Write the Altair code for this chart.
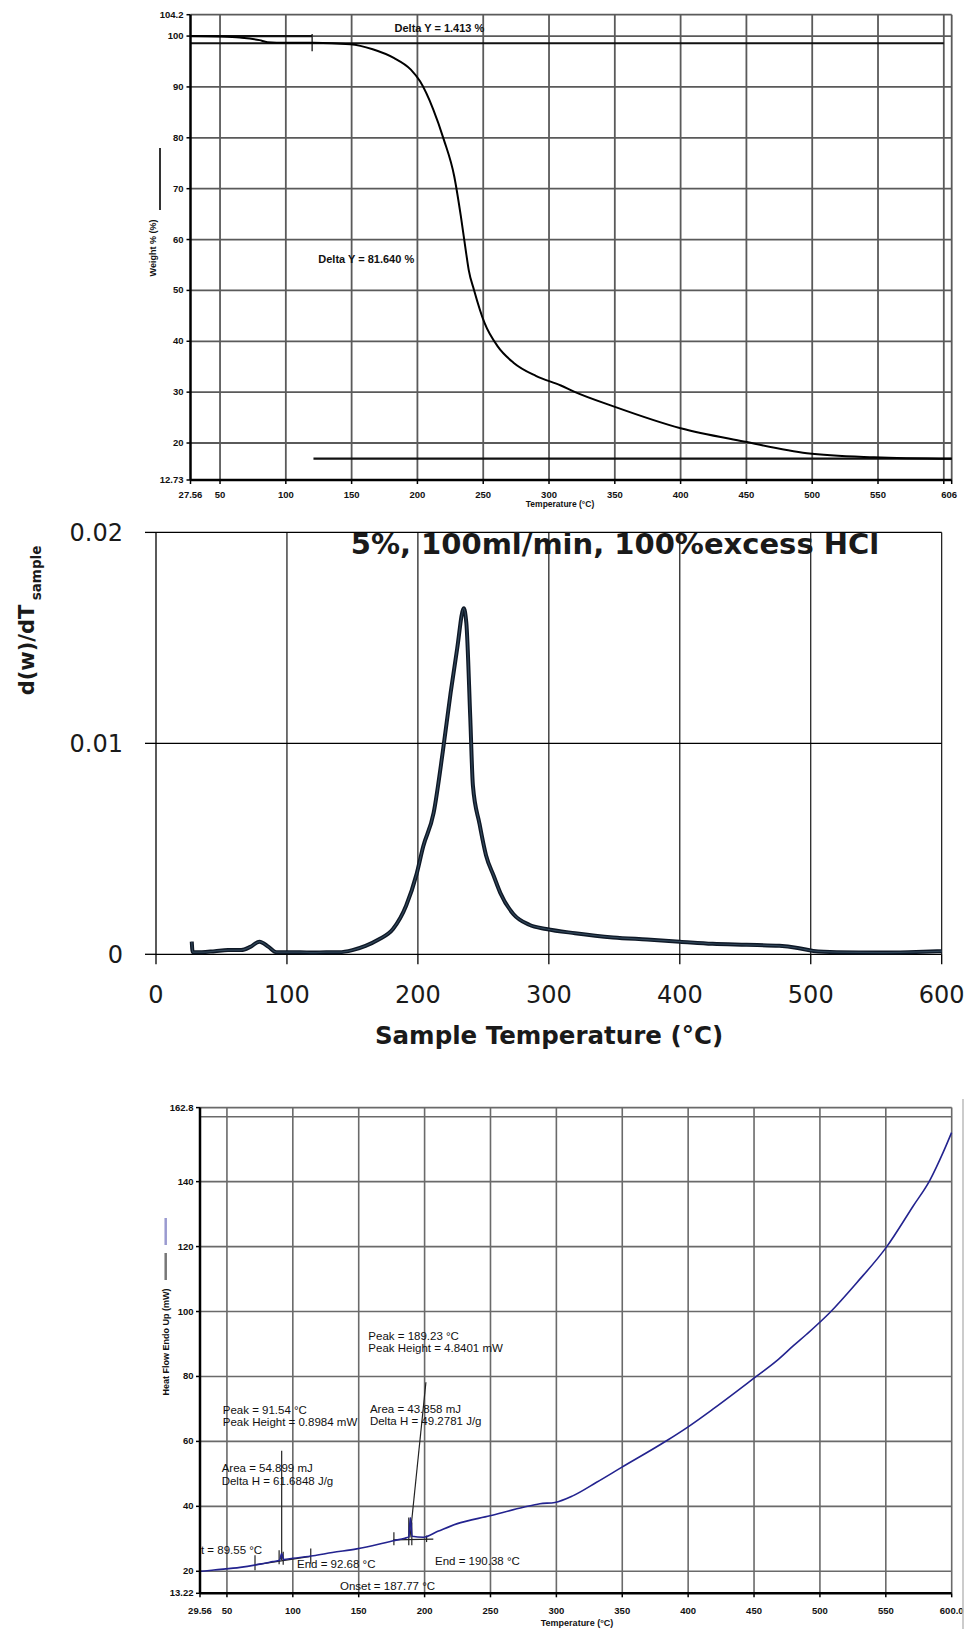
import altair as alt
import pandas as pd

CW, CH = 971, 1629

# ---------------- Panel 1: TGA weight curve ----------------
tga_temp = [27.56, 50, 65, 80, 86, 100, 121, 149, 166, 182, 195, 202, 212, 220, 228, 233,
            237, 239, 243, 251, 261, 273, 290, 309, 319, 349, 400, 448, 496, 547, 606]
tga_weight = [100.0, 99.9, 99.7, 99.2, 98.8, 98.7, 98.7, 98.4, 97.4, 95.7, 93.4, 91.1, 85.6,
              79.7, 72.4, 64.6, 57.4, 54.0, 50.1, 43.6, 39.0, 35.8, 33.2, 31.3, 30.1, 27.2,
              22.9, 20.3, 18.0, 17.2, 16.9]
tga_ticks_x = [27.56, 50, 100, 150, 200, 250, 300, 350, 400, 450, 500, 550, 600, 606]
tga_label_pos = [27.56, 50, 100, 150, 200, 250, 300, 350, 400, 450, 500, 550, 604]
tga_labels_x = ["27.56", "50", "100", "150", "200", "250", "300", "350", "400", "450",
                "500", "550", "606"]
tga_ticks_y = [12.73, 20, 30, 40, 50, 60, 70, 80, 90, 100, 104.2]
tga_labels_y = ["12.73", "20", "30", "40", "50", "60", "70", "80", "90", "100", "104.2"]
tga_grid_x = [50, 100, 150, 200, 250, 300, 350, 400, 450, 500, 550, 600, 606]
tga_grid_y = [20, 30, 40, 50, 60, 70, 80, 90, 100, 104.2]
tga_base_from = [27.56, 27.56, 121]
tga_base_to = [120, 600, 606]
tga_base_level = [100.0, 98.59, 16.95]
tga_notes = ["Delta Y = 1.413 %", "Delta Y = 81.640 %"]
tga_note_T = [216.7, 161.1]
tga_note_W = [101.3, 56.0]

# ---------------- Panel 2: DTG curve ----------------
dtg_temp = [27.3, 28, 35, 45, 55, 65, 72, 79, 86, 92, 100, 110, 120, 130, 140, 150, 160, 170,
            181, 191, 199, 204, 212, 219, 225, 230, 235, 237, 240, 242, 247, 252, 258, 263,
            273, 285, 298, 320, 349, 375, 400, 425, 451, 476, 490, 502, 520, 553, 575, 600]
dtg_rate = [0.0006, 0.0001, 0.0001, 0.00015, 0.0002, 0.0002, 0.00035, 0.0006, 0.00035, 0.0001,
            0.0001, 0.0001, 0.00008, 0.0001, 0.0001, 0.0002, 0.0004, 0.0007, 0.0012, 0.0023,
            0.0038, 0.0051, 0.0067, 0.0096, 0.0124, 0.0145, 0.0164, 0.0157, 0.0112, 0.0080,
            0.0062, 0.0047, 0.0037, 0.0029, 0.0019, 0.0014, 0.0012, 0.0010, 0.0008, 0.0007,
            0.0006, 0.0005, 0.00045, 0.0004, 0.0003, 0.00016, 0.0001, 0.00008, 0.0001, 0.00015]
dtg_ticks_x = [0, 100, 200, 300, 400, 500, 600]
dtg_labels_x = ["0", "100", "200", "300", "400", "500", "600"]
dtg_ticks_y = [0, 0.01, 0.02]
dtg_labels_y = ["0", "0.01", "0.02"]
dtg_grid_x = [100, 200, 300, 400, 500, 600]
dtg_grid_y = [0.01, 0.02]

# ---------------- Panel 3: DSC heat flow ----------------
dsc_temp = [29.56, 29.8, 30.5, 40, 60, 75, 85, 90, 91.5, 93, 100, 115.5, 130, 148.5, 165,
            176.2, 185, 188, 189.2, 190.5, 199, 210, 224.3, 249.6, 275, 287.5, 298.9, 312.8,
            330.5, 349.5, 383.6, 400, 419, 450.7, 467.1, 479.7, 489.9, 507.6, 527.8, 550.6,
            570.8, 583.4, 593.5, 599.9]
dsc_flow = [22.6, 20.3, 20.0, 20.4, 21.2, 22.2, 23.0, 23.4, 25.5, 23.6, 24.0, 24.8, 25.8, 26.9,
            28.3, 29.4, 30.2, 30.6, 36.5, 30.8, 30.5, 32.3, 34.6, 37.1, 39.7, 40.8, 41.2, 43.3,
            47.4, 52.0, 60.2, 64.5, 70.0, 79.7, 84.8, 89.4, 93.0, 99.7, 108.8, 119.9, 132.5,
            140.4, 149.0, 155.1]
dsc_ticks_x = [29.56, 50, 100, 150, 200, 250, 300, 350, 400, 450, 500, 550, 600]
dsc_labels_x = ["29.56", "50", "100", "150", "200", "250", "300", "350", "400", "450",
                "500", "550", "600.0"]
dsc_ticks_y = [13.22, 20, 40, 60, 80, 100, 120, 140, 162.8]
dsc_labels_y = ["13.22", "20", "40", "60", "80", "100", "120", "140", "162.8"]
dsc_grid_x = [50, 100, 150, 200, 250, 300, 350, 400, 450, 500, 550, 600]
dsc_grid_y = [20, 40, 60, 80, 100, 120, 140, 160, 162.8]
dsc_seg_x1 = [91.54, 188.9, 71.3, 176.2, 71.3, 113.6, 89.6, 92.7, 176.7, 188.0, 190.3, 201.5]
dsc_seg_y1 = [23.5, 30.4, 22.0, 29.7, 20.3, 22.3, 22.2, 22.0, 28.0, 28.0, 28.0, 29.0]
dsc_seg_x2 = [91.54, 201.0, 113.6, 206.6, 71.3, 113.6, 89.6, 92.7, 176.7, 188.0, 190.3, 201.5]
dsc_seg_y2 = [57.1, 78.2, 24.6, 29.9, 24.9, 27.0, 26.5, 26.0, 32.0, 36.6, 35.0, 31.0]
dsc_notes = ["Peak = 189.23 °C", "Peak Height = 4.8401 mW", "Peak = 91.54 °C",
             "Peak Height = 0.8984 mW", "Area = 43.858 mJ", "Delta H = 49.2781 J/g",
             "Area = 54.899 mJ", "Delta H = 61.6848 J/g", "t = 89.55 °C", "End = 92.68 °C",
             "End = 190.38 °C", "Onset = 187.77 °C"]
dsc_note_T = [157.3, 157.3, 46.8, 46.8, 158.5, 158.5, 46.0, 46.0, 30.3, 103.2, 207.9, 135.8]
dsc_note_F = [92.0, 88.4, 69.4, 65.8, 69.7, 66.1, 51.5, 47.6, 26.4, 21.8, 22.8, 15.1]

ARIAL = "Liberation Sans"
DJ = "DejaVu Sans"


def vrules(xs, lo, hi):
    return pd.DataFrame({"x": xs, "y": [lo] * len(xs), "y2": [hi] * len(xs)})


def hrules(ys, lo, hi):
    return pd.DataFrame({"y": ys, "x": [lo] * len(ys), "x2": [hi] * len(ys)})


def label(text, x, y, size, weight="bold", font=ARIAL, angle=0, color="#111", align="center"):
    kw = dict(font=font, fontSize=size, fontWeight=weight, color=color, align=align)
    if angle:
        kw["angle"] = angle
    return alt.Chart(pd.DataFrame({"t": [text]})).mark_text(**kw).encode(
        x=alt.value(x), y=alt.value(y), text="t:N")


def pixrule(x1, y1, x2, y2, color, width):
    return alt.Chart(pd.DataFrame({"a": [0]})).mark_rule(color=color, strokeWidth=width).encode(
        x=alt.value(x1), x2=alt.value(x2), y=alt.value(y1), y2=alt.value(y2))


def vgrid(sx, sy, xs, lo, hi, color, width):
    return alt.Chart(vrules(xs, lo, hi)).mark_rule(color=color, strokeWidth=width).encode(
        x=alt.X("x:Q", scale=sx, axis=None), y=alt.Y("y:Q", scale=sy, axis=None), y2="y2:Q")


def hgrid(sx, sy, ys, lo, hi, color, width):
    return alt.Chart(hrules(ys, lo, hi)).mark_rule(color=color, strokeWidth=width).encode(
        x=alt.X("x:Q", scale=sx, axis=None), x2="x2:Q", y=alt.Y("y:Q", scale=sy, axis=None))


def xaxis(sx, sy, ticks, label_pos, labels, y0, base_px, tick_len, label_px, font, size,
          weight, color, tick_w):
    n = len(ticks)
    tk = alt.Chart(pd.DataFrame({"x": ticks, "y": [y0] * n})).mark_rule(
        color="#000", strokeWidth=tick_w).encode(
        x=alt.X("x:Q", scale=sx, axis=None), y=alt.Y("y:Q", scale=sy, axis=None),
        y2=alt.value(base_px + tick_len))
    lb = alt.Chart(pd.DataFrame({"x": label_pos, "t": labels})).mark_text(
        font=font, fontSize=size, fontWeight=weight, color=color, baseline="middle").encode(
        x=alt.X("x:Q", scale=sx, axis=None), y=alt.value(label_px), text="t:N")
    return [tk, lb]


def yaxis(sx, sy, ticks, labels, x0, base_px, tick_len, label_px, font, size, weight, color,
          tick_w, dy=0):
    n = len(ticks)
    tk = alt.Chart(pd.DataFrame({"x": [x0] * n, "y": ticks})).mark_rule(
        color="#000", strokeWidth=tick_w).encode(
        x=alt.X("x:Q", scale=sx, axis=None), x2=alt.value(base_px - tick_len),
        y=alt.Y("y:Q", scale=sy, axis=None))
    lb = alt.Chart(pd.DataFrame({"y": ticks, "t": labels})).mark_text(
        font=font, fontSize=size, fontWeight=weight, color=color, align="right",
        baseline="middle", dy=dy).encode(
        x=alt.value(label_px), y=alt.Y("y:Q", scale=sy, axis=None), text="t:N")
    return [tk, lb]


# ================= Panel 1 =================
sx1 = alt.Scale(domain=[27.56, 606], range=[190.5, 951.7], nice=False, zero=False)
sy1 = alt.Scale(domain=[12.73, 104.2], range=[480, 14.7], nice=False, zero=False)

p1_base = alt.Chart(pd.DataFrame({"x": tga_base_from, "x2": tga_base_to, "y": tga_base_level})).mark_rule(
    color="#111", strokeWidth=2.2).encode(
    x=alt.X("x:Q", scale=sx1, axis=None), x2="x2:Q", y=alt.Y("y:Q", scale=sy1, axis=None))
p1_line = alt.Chart(pd.DataFrame({"T": tga_temp, "W": tga_weight})).mark_line(
    color="#000", strokeWidth=2, interpolate="monotone").encode(
    x=alt.X("T:Q", scale=sx1, axis=None), y=alt.Y("W:Q", scale=sy1, axis=None))
p1_text = alt.Chart(pd.DataFrame({"t": tga_notes, "T": tga_note_T, "W": tga_note_W})).mark_text(
    font=ARIAL, fontSize=11, fontWeight="bold", color="#111").encode(
    x=alt.X("T:Q", scale=sx1, axis=None), y=alt.Y("W:Q", scale=sy1, axis=None), text="t:N")

panel1 = alt.layer(
    vgrid(sx1, sy1, tga_grid_x, 12.73, 104.2, "#5a5a5a", 1.8),
    hgrid(sx1, sy1, tga_grid_y, 27.56, 606, "#5a5a5a", 1.8),
    vgrid(sx1, sy1, [120], 97.0, 100.4, "#333", 1.5),
    p1_base, p1_line, p1_text,
    vgrid(sx1, sy1, [27.56], 12.73, 104.2, "#000", 2.5),
    hgrid(sx1, sy1, [12.73], 27.56, 606, "#000", 2.5),
    *xaxis(sx1, sy1, tga_ticks_x, tga_label_pos, tga_labels_x, 12.73, 480, 4, 495, ARIAL, 9.5,
           "bold", "#111", 1.5),
    *yaxis(sx1, sy1, tga_ticks_y, tga_labels_y, 27.56, 190.5, 4, 183.5, ARIAL, 9.5, "bold",
           "#111", 1.5),
    label("Weight % (%)", 153, 248, 9, angle=270),
    pixrule(160, 148, 160, 210, "#333", 2),
    label("Temperature (°C)", 560, 504, 8.5),
)

# ================= Panel 2 =================
sx2 = alt.Scale(domain=[0, 600], range=[156, 941.7], nice=False, zero=False)
sy2 = alt.Scale(domain=[0, 0.02], range=[954.3, 532.4], nice=False, zero=False)

p2_band = alt.Chart(pd.DataFrame({"T": dtg_temp, "R": dtg_rate})).mark_line(
    color="#0e1826", strokeWidth=4, interpolate="monotone").encode(
    x=alt.X("T:Q", scale=sx2, axis=None), y=alt.Y("R:Q", scale=sy2, axis=None))
p2_core = alt.Chart(pd.DataFrame({"T": dtg_temp, "R": dtg_rate})).mark_line(
    color="#3b5266", strokeWidth=1.2, interpolate="monotone", opacity=0.8).encode(
    x=alt.X("T:Q", scale=sx2, axis=None), y=alt.Y("R:Q", scale=sy2, axis=None))

panel2 = alt.layer(
    vgrid(sx2, sy2, dtg_grid_x, 0, 0.02, "#000", 1.1),
    hgrid(sx2, sy2, dtg_grid_y, 0, 600, "#000", 1.1),
    vgrid(sx2, sy2, [0], 0, 0.02, "#000", 1.3),
    hgrid(sx2, sy2, [0], 0, 600, "#000", 1.3),
    *xaxis(sx2, sy2, dtg_ticks_x, dtg_ticks_x, dtg_labels_x, 0, 954.3, 10, 995.5, DJ, 24,
           "normal", "#1a1a1a", 1.3),
    *yaxis(sx2, sy2, dtg_ticks_y, dtg_labels_y, 0, 156, 11, 123, DJ, 24, "normal", "#1a1a1a",
           1.3, dy=2),
    p2_band, p2_core,
    label("5%, 100ml/min, 100%excess HCl", 615, 545, 29, font=DJ, color="#1a1a1a"),
    label("Sample Temperature (°C)", 549, 1037, 24.5, font=DJ, color="#1a1a1a"),
    label("d(w)/dT", 28, 650, 21, font=DJ, angle=270, color="#1a1a1a"),
    label("sample", 37, 573, 13.5, font=DJ, angle=270, color="#1a1a1a"),
)

# ================= Panel 3 =================
sx3 = alt.Scale(domain=[29.56, 600], range=[200, 951.7], nice=False, zero=False)
sy3 = alt.Scale(domain=[13.22, 162.8], range=[1593.3, 1107.6], nice=False, zero=False)

p3_segs = alt.Chart(pd.DataFrame({"x": dsc_seg_x1, "y": dsc_seg_y1, "x2": dsc_seg_x2, "y2": dsc_seg_y2})).mark_rule(
    color="#222", strokeWidth=1.2).encode(
    x=alt.X("x:Q", scale=sx3, axis=None), x2="x2:Q",
    y=alt.Y("y:Q", scale=sy3, axis=None), y2="y2:Q")
p3_line = alt.Chart(pd.DataFrame({"T": dsc_temp, "F": dsc_flow})).mark_line(
    color="#23238f", strokeWidth=1.6, interpolate="monotone").encode(
    x=alt.X("T:Q", scale=sx3, axis=None), y=alt.Y("F:Q", scale=sy3, axis=None))
p3_text = alt.Chart(pd.DataFrame({"t": dsc_notes, "T": dsc_note_T, "F": dsc_note_F})).mark_text(
    font=ARIAL, fontSize=11.5, align="left", color="#111").encode(
    x=alt.X("T:Q", scale=sx3, axis=None), y=alt.Y("F:Q", scale=sy3, axis=None), text="t:N")

panel3 = alt.layer(
    vgrid(sx3, sy3, dsc_grid_x, 13.22, 162.8, "#6a6a6a", 1.6),
    hgrid(sx3, sy3, dsc_grid_y, 29.56, 600, "#6a6a6a", 1.6),
    p3_segs, p3_line, p3_text,
    vgrid(sx3, sy3, [29.56], 13.22, 162.8, "#000", 2.5),
    hgrid(sx3, sy3, [13.22], 29.56, 600, "#000", 2.5),
    *xaxis(sx3, sy3, dsc_ticks_x, dsc_ticks_x, dsc_labels_x, 13.22, 1593.3, 4, 1611, ARIAL,
           9.5, "bold", "#111", 1.5),
    *yaxis(sx3, sy3, dsc_ticks_y, dsc_labels_y, 29.56, 200, 4, 193.5, ARIAL, 9.5, "bold",
           "#111", 1.5),
    label("Heat Flow Endo Up (mW)", 165.7, 1342, 9, angle=270),
    pixrule(165.7, 1218, 165.7, 1245, "#9a9ad0", 2.5),
    pixrule(165.7, 1253, 165.7, 1280, "#777", 2.5),
    label("Temperature (°C)", 577, 1623, 9),
    pixrule(963, 1099, 963, 1629, "#bbb", 1.5),
)

chart = alt.layer(panel1, panel2, panel3).resolve_scale(
    x="independent", y="independent").properties(
    width=CW, height=CH, padding=0, autosize=alt.AutoSizeParams(type="none"),
    background="white").configure_view(stroke=None)

chart.save("out.html", embed_options={"renderer": "svg", "actions": False})
